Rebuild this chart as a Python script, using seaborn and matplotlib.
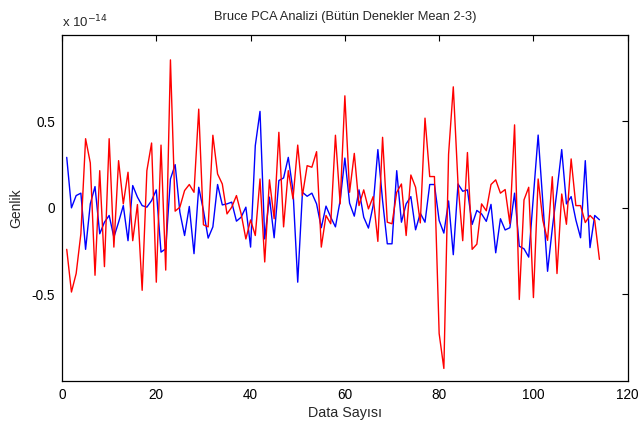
import matplotlib
matplotlib.use("Agg")
import matplotlib.pyplot as plt
import seaborn as sns
import numpy as np
import pandas as pd

# values in units of 1e-14
blue_vals = [0.292, 0.0, 0.071, 0.085, -0.24, 0.023, 0.123, -0.15, -0.083, -0.044,
             -0.17, -0.083, 0.013, -0.19, 0.129, 0.062, 0.013, 0.004, 0.042, 0.104,
             -0.256, -0.237, 0.167, 0.25, -0.025, -0.16, 0.008, -0.265, 0.119, -0.015,
             -0.175, -0.11, 0.135, 0.017, 0.023, 0.033, -0.077, -0.054, 0.004, -0.227,
             0.36, 0.558, -0.18, 0.062, -0.173, 0.158, 0.173, 0.292, 0.1, -0.43,
             0.09, 0.067, 0.085, 0.023, -0.115, 0.01, -0.054, -0.11, 0.042, 0.288,
             0.027, -0.048, 0.104, -0.054, -0.117, 0.013, 0.337, 0.042, -0.208, -0.208,
             0.215, -0.083, 0.023, 0.065, -0.127, -0.031, -0.083, 0.135, 0.135, -0.073,
             -0.146, 0.04, -0.271, 0.138, 0.096, 0.104, -0.096, -0.015, -0.035, -0.078,
             0.02, -0.26, -0.063, -0.128, -0.115, 0.085, -0.222, -0.237, -0.285, 0.07,
             0.421, 0.03, -0.367, -0.12, 0.1, 0.337, 0.023, 0.065, -0.07, -0.173,
             0.273, -0.23, -0.044, -0.069]

red_vals = [-0.24, -0.487, -0.38, -0.15, 0.40, 0.26, -0.39, 0.215, -0.34, 0.40,
            -0.227, 0.273, 0.023, 0.206, -0.19, 0.019, -0.477, 0.215, 0.375, -0.43,
            0.363, -0.36, 0.856, -0.019, 0.004, 0.1, 0.135, 0.09, 0.571, -0.098,
            -0.11, 0.42, 0.196, 0.138, -0.035, 0.004, 0.071, -0.035, -0.18, -0.07,
            -0.16, 0.167, -0.313, 0.162, -0.063, 0.437, -0.11, 0.215, 0.052, 0.363,
            0.071, 0.244, 0.235, 0.325, -0.227, -0.044, -0.092, 0.42, 0.023, 0.648,
            0.09, 0.315, 0.013, 0.104, -0.006, 0.065, -0.194, 0.408, -0.083, -0.092,
            0.09, 0.138, -0.16, 0.19, 0.119, -0.087, 0.519, 0.181, 0.181, -0.727,
            -0.929, 0.31, 0.70, 0.14, -0.19, 0.32, -0.24, -0.21, 0.023, -0.017,
            0.135, 0.162, 0.085, 0.106, -0.092, 0.48, -0.53, 0.046, 0.119, -0.519,
            0.167, -0.073, -0.188, 0.18, -0.38, 0.08, -0.095, 0.283, 0.013, 0.013,
            -0.085, -0.044, -0.072, -0.298]

x_vals = list(range(1, len(blue_vals) + 1))
x_ticks = [0, 20, 40, 60, 80, 100, 120]
y_ticks = [-0.5, 0, 0.5]
y_tick_labels = ["-0.5", "0", "0.5"]

sns.set_style("white")
plt.rcParams['font.family'] = ['Liberation Sans', 'DejaVu Sans']

fig = plt.figure(figsize=(6.4, 4.21), dpi=100)
ax = fig.add_axes([0.0969, 0.0957, 0.8839, 0.8212])

df = pd.DataFrame({"x": x_vals, "blue": blue_vals, "red": red_vals})
sns.lineplot(data=df, x="x", y="blue", color="#0000ff", lw=1.0, ax=ax)
sns.lineplot(data=df, x="x", y="red", color="#ff0000", lw=1.0, ax=ax)

ax.set_xlim(0, 120)
ax.set_ylim(-1, 1)
ax.set_xticks(x_ticks)
ax.set_xticklabels([str(t) for t in x_ticks])
ax.set_yticks(y_ticks)
ax.set_yticklabels(y_tick_labels)
ax.tick_params(direction='in', top=True, right=True, length=4.5, width=0.8,
               labelsize=9.8, colors='black', pad=5)
for s in ax.spines.values():
    s.set_visible(True)
    s.set_color('black')
    s.set_linewidth(0.9)

ax.set_xlabel("Data Sayısı", fontsize=10.3, labelpad=3)
ax.set_ylabel("Genlik", fontsize=10, labelpad=6)
ax.set_title("Bruce PCA Analizi (Bütün Denekler Mean 2-3)", fontsize=9.3, pad=11)
fig.text(62/640, 1 - 27/421, r"x 10$^{-14}$", fontsize=9.5, ha='left', va='baseline')

fig.savefig("out.png", dpi=100, facecolor='white')
